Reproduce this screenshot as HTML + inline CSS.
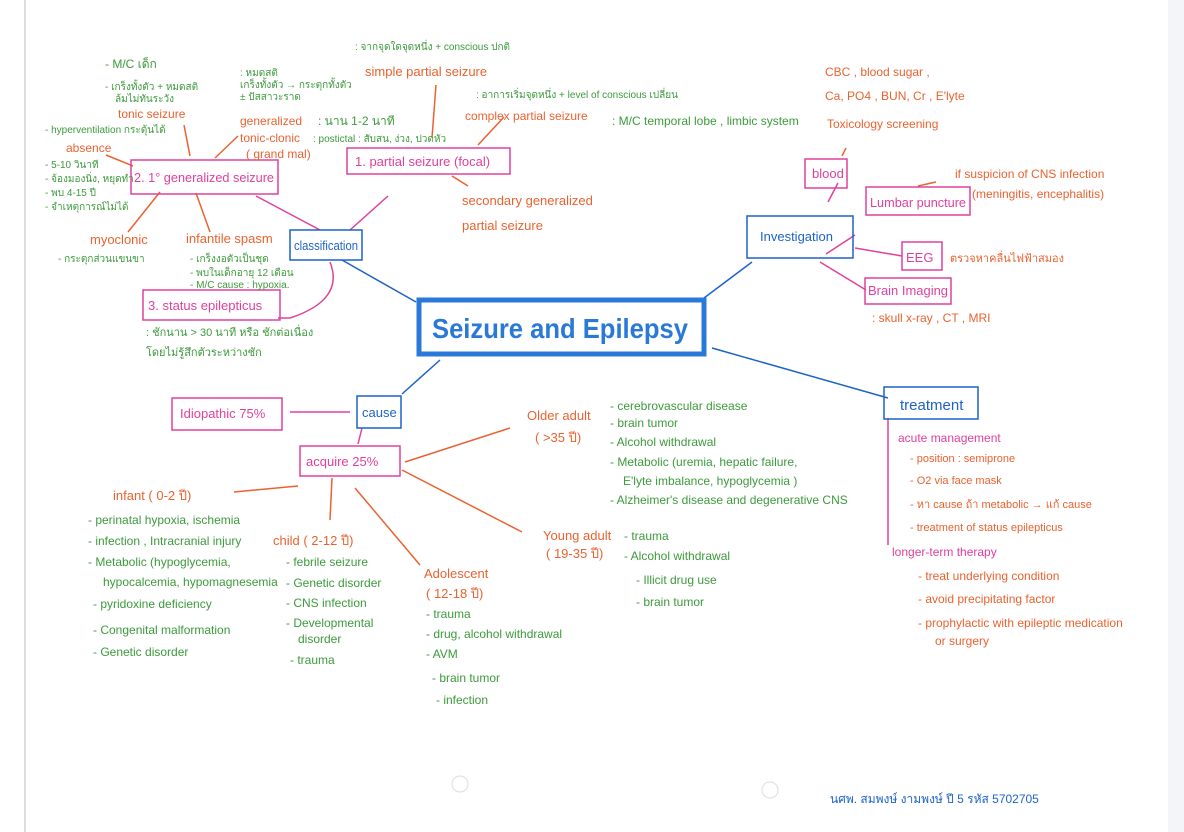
<!DOCTYPE html>
<html><head><meta charset="utf-8"><style>
html,body{margin:0;padding:0;background:#fff;}
svg{display:block}
text{font-family:"Liberation Sans","DejaVu Sans",sans-serif;}
.g{fill:#3c9a3c;font-size:12px}
.o{fill:#ea6230;font-size:13px}
.p{fill:#e0409c;font-size:13px}
.b{fill:#1d62c8;font-size:13px}
</style></head><body>
<svg width="1184" height="832" viewBox="0 0 1184 832" xmlns="http://www.w3.org/2000/svg">
<rect width="1184" height="832" fill="#fff"/>
<line x1="25" y1="0" x2="25" y2="832" stroke="#bbb" stroke-width="1"/>
<rect x="1168" y="0" width="16" height="832" fill="#f4f5f8"/>
<g fill="none" stroke-width="1.5">
<path d="M416 302 L342 260" stroke="#1d62c8"/>
<path d="M704 298 L752 262" stroke="#1d62c8"/>
<path d="M712 348 L888 398" stroke="#1d62c8"/>
<path d="M440 360 L402 394" stroke="#1d62c8"/>
<path d="M350 230 L388 196" stroke="#e0409c"/>
<path d="M320 230 L256 196" stroke="#e0409c"/>
<path d="M330 262 Q345 300 290 318 L278 318" stroke="#e0409c"/>
<path d="M350 412 L290 412" stroke="#e0409c"/>
<path d="M362 428 L358 444" stroke="#e0409c"/>
<path d="M828 202 L838 183" stroke="#e0409c"/>
<path d="M826 254 L855 235" stroke="#e0409c"/>
<path d="M855 248 L902 256" stroke="#e0409c"/>
<path d="M820 262 L866 290" stroke="#e0409c"/>
<path d="M888 418 L888 545" stroke="#e0409c"/>
<path d="M436 85 L432 138" stroke="#ea6230"/>
<path d="M504 117 L478 145" stroke="#ea6230"/>
<path d="M452 176 L468 186" stroke="#ea6230"/>
<path d="M184 125 L190 156" stroke="#ea6230"/>
<path d="M215 158 L238 136" stroke="#ea6230"/>
<path d="M106 155 L133 166" stroke="#ea6230"/>
<path d="M160 192 L128 232" stroke="#ea6230"/>
<path d="M196 193 L210 232" stroke="#ea6230"/>
<path d="M846 148 L842 156" stroke="#ea6230"/>
<path d="M936 182 L918 186" stroke="#ea6230"/>
<path d="M405 462 L510 428" stroke="#ea6230"/>
<path d="M298 486 L234 492" stroke="#ea6230"/>
<path d="M332 478 L330 520" stroke="#ea6230"/>
<path d="M355 488 L420 565" stroke="#ea6230"/>
<path d="M402 470 L522 532" stroke="#ea6230"/>
</g>
<rect x="419" y="300" width="285" height="54" fill="none" stroke="#2a78d8" stroke-width="5"/>
<text x="432" y="338" textLength="256" lengthAdjust="spacingAndGlyphs" style="font-size:28px;font-weight:bold;fill:#2a78d8">Seizure and Epilepsy</text>
<rect x="290" y="230" width="72" height="30" fill="none" stroke="#1d62c8" stroke-width="1.5"/>
<text x="294" y="250" class="b" textLength="64" lengthAdjust="spacingAndGlyphs">classification</text>
<rect x="747" y="216" width="106" height="42" fill="none" stroke="#1d62c8" stroke-width="1.5"/>
<text x="760" y="241" class="b">Investigation</text>
<rect x="884" y="387" width="94" height="32" fill="none" stroke="#1d62c8" stroke-width="1.5"/>
<text x="900" y="410" class="b" style="font-size:15px">treatment</text>
<rect x="357" y="396" width="44" height="32" fill="none" stroke="#1d62c8" stroke-width="1.5"/>
<text x="362" y="417" class="b">cause</text>
<rect x="131" y="160" width="147" height="34" fill="none" stroke="#e0409c" stroke-width="1.5"/>
<text x="134" y="182" class="p" textLength="140" lengthAdjust="spacingAndGlyphs">2. 1° generalized seizure</text>
<rect x="347" y="148" width="163" height="26" fill="none" stroke="#e0409c" stroke-width="1.5"/>
<text x="355" y="166" class="p">1. partial seizure (focal)</text>
<rect x="143" y="290" width="137" height="30" fill="none" stroke="#e0409c" stroke-width="1.5"/>
<text x="148" y="310" class="p">3. status epilepticus</text>
<rect x="805" y="159" width="42" height="29" fill="none" stroke="#e0409c" stroke-width="1.5"/>
<text x="812" y="178" class="p">blood</text>
<rect x="866" y="187" width="104" height="28" fill="none" stroke="#e0409c" stroke-width="1.5"/>
<text x="870" y="207" class="p" textLength="96" lengthAdjust="spacingAndGlyphs">Lumbar puncture</text>
<rect x="902" y="242" width="40" height="28" fill="none" stroke="#e0409c" stroke-width="1.5"/>
<text x="906" y="262" class="p">EEG</text>
<rect x="865" y="278" width="86" height="26" fill="none" stroke="#e0409c" stroke-width="1.5"/>
<text x="868" y="295" class="p" textLength="80" lengthAdjust="spacingAndGlyphs">Brain Imaging</text>
<rect x="172" y="398" width="110" height="32" fill="none" stroke="#e0409c" stroke-width="1.5"/>
<text x="180" y="418" class="p">Idiopathic 75%</text>
<rect x="300" y="446" width="100" height="30" fill="none" stroke="#e0409c" stroke-width="1.5"/>
<text x="306" y="466" class="p">acquire 25%</text>
<text x="355" y="50" class="g" style="font-size:10px">: จากจุดใดจุดหนึ่ง + conscious ปกติ</text>
<text x="365" y="76" class="o">simple partial seizure</text>
<text x="476" y="98" class="g" style="font-size:10px">: อาการเริ่มจุดหนึ่ง + level of conscious เปลี่ยน</text>
<text x="465" y="120" class="o" style="font-size:12px">complex partial seizure</text>
<text x="612" y="125" class="g">: M/C temporal lobe , limbic system</text>
<text x="462" y="205" class="o">secondary generalized</text>
<text x="462" y="230" class="o">partial seizure</text>
<text x="105" y="68" class="g">- M/C เด็ก</text>
<text x="105" y="90" class="g" style="font-size:10px">- เกร็งทั้งตัว + หมดสติ</text>
<text x="115" y="102" class="g" style="font-size:10px">ล้มไม่ทันระวัง</text>
<text x="118" y="118" class="o" style="font-size:12px">tonic seizure</text>
<text x="240" y="76" class="g" style="font-size:10px">: หมดสติ</text>
<text x="240" y="88" class="g" style="font-size:10px">เกร็งทั้งตัว → กระตุกทั้งตัว</text>
<text x="240" y="100" class="g" style="font-size:10px">± ปัสสาวะราด</text>
<text x="240" y="125" class="o" style="font-size:12px">generalized</text>
<text x="318" y="125" class="g">: นาน 1-2 นาที</text>
<text x="240" y="142" class="o" style="font-size:12px">tonic-clonic</text>
<text x="313" y="142" class="g" style="font-size:10px">: postictal : สับสน, ง่วง, ปวดหัว</text>
<text x="246" y="158" class="o" style="font-size:12px">( grand mal)</text>
<text x="45" y="133" class="g" style="font-size:10px">- hyperventilation กระตุ้นได้</text>
<text x="66" y="152" class="o" style="font-size:12px">absence</text>
<text x="45" y="168" class="g" style="font-size:10px">- 5-10 วินาที</text>
<text x="45" y="182" class="g" style="font-size:10px">- จ้องมองนิ่ง, หยุดทำ</text>
<text x="45" y="196" class="g" style="font-size:10px">- พบ 4-15 ปี</text>
<text x="45" y="210" class="g" style="font-size:10px">- จำเหตุการณ์ไม่ได้</text>
<text x="90" y="244" class="o">myoclonic</text>
<text x="58" y="262" class="g" style="font-size:10px">- กระตุกส่วนแขนขา</text>
<text x="186" y="243" class="o">infantile spasm</text>
<text x="190" y="262" class="g" style="font-size:10px">- เกร็งงอตัวเป็นชุด</text>
<text x="190" y="276" class="g" style="font-size:10px">- พบในเด็กอายุ 12 เดือน</text>
<text x="190" y="288" class="g" style="font-size:10px">- M/C cause : hypoxia.</text>
<text x="146" y="336" class="g" style="font-size:11px">: ชักนาน &gt; 30 นาที หรือ ชักต่อเนื่อง</text>
<text x="146" y="356" class="g" style="font-size:11px">โดยไม่รู้สึกตัวระหว่างชัก</text>
<text x="825" y="76" class="o" style="font-size:12px">CBC , blood sugar ,</text>
<text x="825" y="100" class="o" style="font-size:12px">Ca, PO4 , BUN, Cr , E'lyte</text>
<text x="827" y="128" class="o" style="font-size:12px">Toxicology screening</text>
<text x="955" y="178" class="o" style="font-size:12px">if suspicion of CNS infection</text>
<text x="972" y="198" class="o" style="font-size:12px">(meningitis, encephalitis)</text>
<text x="950" y="262" class="o" style="font-size:11px">ตรวจหาคลื่นไฟฟ้าสมอง</text>
<text x="872" y="322" class="o" style="font-size:12px">: skull x-ray , CT , MRI</text>
<text x="898" y="442" class="p" style="font-size:12px">acute management</text>
<text x="910" y="462" class="o" style="font-size:11px">- position : semiprone</text>
<text x="910" y="484" class="o" style="font-size:11px">- O2 via face mask</text>
<text x="910" y="508" class="o" style="font-size:11px">- หา cause ถ้า metabolic → แก้ cause</text>
<text x="910" y="531" class="o" style="font-size:11px">- treatment of status epilepticus</text>
<text x="892" y="556" class="p" style="font-size:12px">longer-term therapy</text>
<text x="918" y="580" class="o" style="font-size:12px">- treat underlying condition</text>
<text x="918" y="603" class="o" style="font-size:12px">- avoid precipitating factor</text>
<text x="918" y="627" class="o" style="font-size:12px">- prophylactic with epileptic medication</text>
<text x="935" y="645" class="o" style="font-size:12px">or surgery</text>
<text x="527" y="420" class="o">Older adult</text>
<text x="535" y="442" class="o">( &gt;35 ปี)</text>
<text x="610" y="410" class="g">- cerebrovascular disease</text>
<text x="610" y="427" class="g">- brain tumor</text>
<text x="610" y="446" class="g">- Alcohol withdrawal</text>
<text x="610" y="466" class="g">- Metabolic (uremia, hepatic failure,</text>
<text x="623" y="485" class="g">E'lyte imbalance, hypoglycemia )</text>
<text x="610" y="504" class="g">- Alzheimer's disease and degenerative CNS</text>
<text x="543" y="540" class="o">Young adult</text>
<text x="546" y="558" class="o">( 19-35 ปี)</text>
<text x="624" y="540" class="g">- trauma</text>
<text x="624" y="560" class="g">- Alcohol withdrawal</text>
<text x="636" y="584" class="g">- Illicit drug use</text>
<text x="636" y="606" class="g">- brain tumor</text>
<text x="424" y="578" class="o">Adolescent</text>
<text x="426" y="598" class="o">( 12-18 ปี)</text>
<text x="426" y="618" class="g">- trauma</text>
<text x="426" y="638" class="g">- drug, alcohol withdrawal</text>
<text x="426" y="658" class="g">- AVM</text>
<text x="432" y="682" class="g">- brain tumor</text>
<text x="436" y="704" class="g">- infection</text>
<text x="273" y="545" class="o">child ( 2-12 ปี)</text>
<text x="286" y="566" class="g">- febrile seizure</text>
<text x="286" y="587" class="g">- Genetic disorder</text>
<text x="286" y="607" class="g">- CNS infection</text>
<text x="286" y="627" class="g">- Developmental</text>
<text x="298" y="643" class="g">disorder</text>
<text x="290" y="664" class="g">- trauma</text>
<text x="113" y="500" class="o">infant ( 0-2 ปี)</text>
<text x="88" y="524" class="g">- perinatal hypoxia, ischemia</text>
<text x="88" y="545" class="g">- infection , Intracranial injury</text>
<text x="88" y="566" class="g">- Metabolic (hypoglycemia,</text>
<text x="103" y="586" class="g">hypocalcemia, hypomagnesemia</text>
<text x="93" y="608" class="g">- pyridoxine deficiency</text>
<text x="93" y="634" class="g">- Congenital malformation</text>
<text x="93" y="656" class="g">- Genetic disorder</text>
<text x="830" y="803" style="font-size:12px;fill:#1d62c8">นศพ. สมพงษ์  งามพงษ์  ปี 5  รหัส 5702705</text>
<circle cx="460" cy="784" r="8" fill="none" stroke="#ddd"/>
<circle cx="770" cy="790" r="8" fill="none" stroke="#ddd"/>
</svg>
</body></html>
